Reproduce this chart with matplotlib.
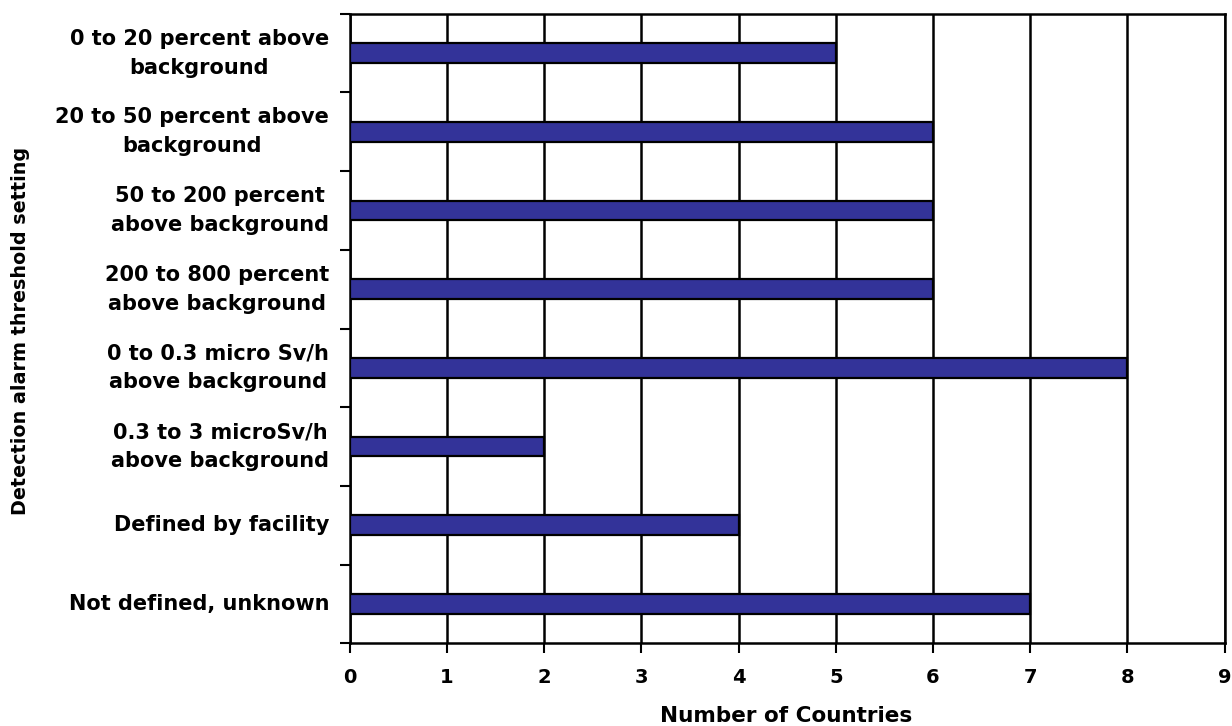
import numpy as np
import matplotlib.pyplot as plt

plt.rcParams['font.family'] = ['DejaVu Sans']
plt.rcParams['font.weight'] = 'bold'

categories = [
    '0 to 20 percent above\nbackground',
    '20 to 50 percent above\nbackground',
    '50 to 200 percent\nabove background',
    '200 to 800 percent\nabove background',
    '0 to 0.3 micro Sv/h\nabove background',
    '0.3 to 3 microSv/h\nabove background',
    'Defined by facility',
    'Not defined, unknown',
]
countries = [5, 6, 6, 6, 8, 2, 4, 7]
x_ticks = list(range(0, 10))

fig = plt.figure(figsize=(12.32, 7.26), dpi=100)
ax = fig.add_axes([0.284, 0.114, 0.71, 0.867])

y = np.arange(len(categories))
ax.barh(y, countries, height=0.25, color='#333399', edgecolor='black',
        linewidth=1.6, zorder=3)

ax.set_xlim(0, 9)
ax.set_ylim(len(categories) - 0.5, -0.5)
ax.set_xticks(x_ticks)
ax.set_xticklabels([str(t) for t in x_ticks], fontsize=14, fontweight='bold')
ax.xaxis.grid(True, color='black', linewidth=1.8, zorder=1)
ax.set_axisbelow(True)

# category names sit left of the axis, boundary ticks between them
ax.set_yticks(y)
ax.set_yticklabels([])
ax.set_yticks(np.arange(-0.5, len(categories)), minor=True)
ax.tick_params(axis='y', which='major', length=0)
ax.tick_params(axis='y', which='minor', length=7, width=1.5, direction='out')
ax.tick_params(axis='x', length=7, width=1.5, direction='out', pad=11)

for yi, label in zip(y, categories):
    ax.annotate(label, xy=(0, yi), xytext=(-15, 0), textcoords='offset points',
                ha='right', va='center', multialignment='center',
                fontsize=15, fontweight='bold', linespacing=1.55)

for side in ax.spines.values():
    side.set_linewidth(1.8)

fig.text(0.017, 0.544, 'Detection alarm threshold setting', rotation=90,
         ha='center', va='center', fontsize=13.8, fontweight='bold')
fig.text(0.638, 0.014, 'Number of Countries', ha='center', va='center',
         fontsize=15.5, fontweight='bold')

fig.savefig('out.png', dpi=100)
